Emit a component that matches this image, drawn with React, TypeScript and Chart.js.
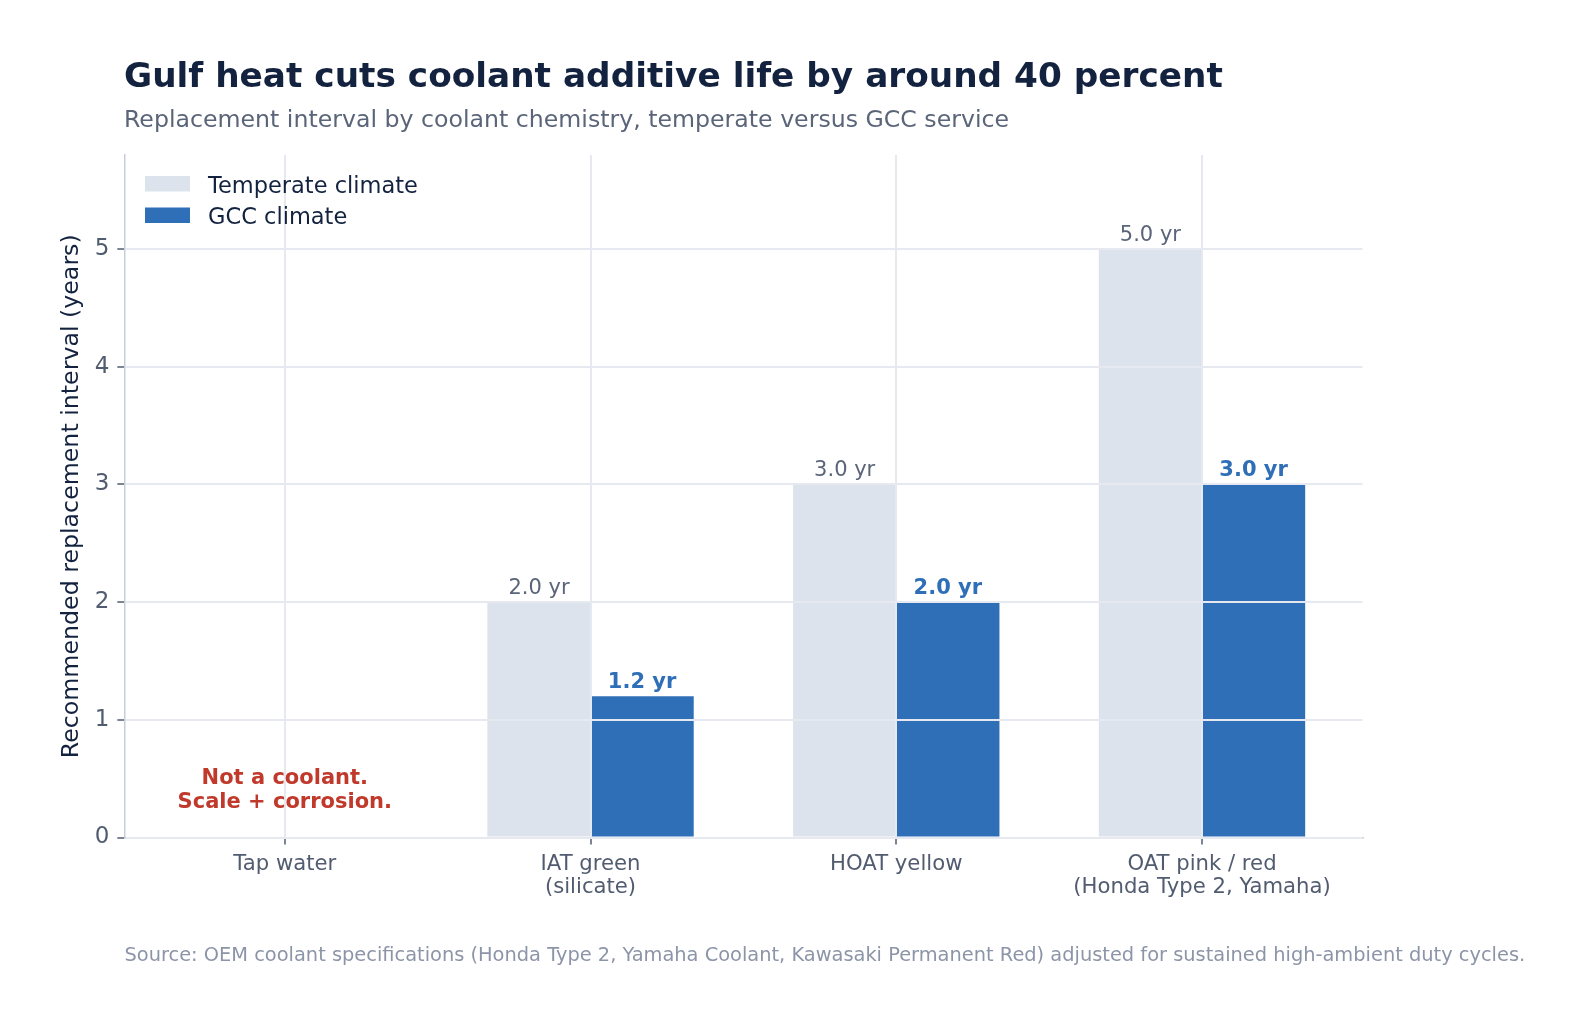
import React, { useEffect, useRef } from "react";
import { Chart, registerables } from "chart.js";

Chart.register(...registerables);

// ---- data ----
const categories: string[][] = [
  ["Tap water"],
  ["IAT green", "(silicate)"],
  ["HOAT yellow"],
  ["OAT pink / red", "(Honda Type 2, Yamaha)"],
];
const categoryPositions = [0, 1, 2, 3];
const temperateYears: (number | null)[] = [null, 2.0, 3.0, 5.0];
const gccYears: (number | null)[] = [null, 1.2, 2.0, 3.0];
const yTickValues = [0, 1, 2, 3, 4, 5];
const seriesLabels = ["Temperate climate", "GCC climate"];

const titleText = "Gulf heat cuts coolant additive life by around 40 percent";
const subtitleText = "Replacement interval by coolant chemistry, temperate versus GCC service";
const sourceText =
  "Source: OEM coolant specifications (Honda Type 2, Yamaha Coolant, Kawasaki Permanent Red) adjusted for sustained high-ambient duty cycles.";
const yAxisTitle = "Recommended replacement interval (years)";
const noteLines = ["Not a coolant.", "Scale + corrosion."];
const noteCategory = 0;
const noteValue = 0.41;

// ---- styles ----
const FONT = '"DejaVu Sans", sans-serif';
const C_TITLE = "#13233f";
const C_SUB = "#5b6579";
const C_TICK = "#525c70";
const C_GRID = "#e6e9f0";
const C_SPINE = "#c8cdd9";
const C_TEMP = "#dde3ed";
const C_GCC = "#2f6fb7";
const C_NOTE = "#c0392b";
const C_SOURCE = "#8c95a7";

const toPoints = (vals: (number | null)[]) =>
  vals
    .map((v, i) => ({ x: categoryPositions[i], y: v }))
    .filter((p) => p.y !== null) as { x: number; y: number }[];

const overlayPlugin = {
  id: "overlay",
  afterDraw(chart: any) {
    const ctx: CanvasRenderingContext2D = chart.ctx;
    const xs = chart.scales.x;
    const ys = chart.scales.y;
    ctx.save();

    // title + subtitle
    ctx.textAlign = "left";
    ctx.textBaseline = "alphabetic";
    ctx.fillStyle = C_TITLE;
    ctx.font = `bold 34.3px ${FONT}`;
    ctx.fillText(titleText, 124, 86.5);
    ctx.fillStyle = C_SUB;
    ctx.font = `23.65px ${FONT}`;
    ctx.fillText(subtitleText, 124, 127);

    // source
    ctx.fillStyle = C_SOURCE;
    ctx.font = `19.4px ${FONT}`;
    ctx.fillText(sourceText, 124.5, 961);

    // y axis title
    ctx.save();
    ctx.translate(78, (chart.chartArea.top + chart.chartArea.bottom) / 2);
    ctx.rotate(-Math.PI / 2);
    ctx.textAlign = "center";
    ctx.fillStyle = C_TITLE;
    ctx.font = `23.7px ${FONT}`;
    ctx.fillText(yAxisTitle, 0, 0);
    ctx.restore();

    // legend
    const colors = [C_TEMP, C_GCC];
    const legendY = [176, 207.5];
    const legendBase = [192.5, 224];
    ctx.font = `22.5px ${FONT}`;
    ctx.textAlign = "left";
    seriesLabels.forEach((lab, i) => {
      ctx.fillStyle = colors[i];
      ctx.fillRect(145, legendY[i], 45, 15.5);
      ctx.fillStyle = C_TITLE;
      ctx.fillText(lab, 208, legendBase[i]);
    });

    // value labels
    ctx.textAlign = "center";
    chart.data.datasets.forEach((ds: any, di: number) => {
      const meta = chart.getDatasetMeta(di);
      meta.data.forEach((el: any, j: number) => {
        const v = ds.data[j].y;
        if (di === 0) {
          ctx.font = `21px ${FONT}`;
          ctx.fillStyle = C_SUB;
        } else {
          ctx.font = `bold 21px ${FONT}`;
          ctx.fillStyle = C_GCC;
        }
        ctx.fillText(`${v.toFixed(1)} yr`, el.x, el.y - 8.5);
      });
    });

    // note
    const nx = xs.getPixelForValue(noteCategory);
    const ny = ys.getPixelForValue(noteValue);
    ctx.font = `bold 21px ${FONT}`;
    ctx.fillStyle = C_NOTE;
    ctx.fillText(noteLines[0], nx, ny - 4.8);
    ctx.fillText(noteLines[1], nx, ny + 19.2);

    ctx.restore();
  },
};

export default function App() {
  const ref = useRef<HTMLCanvasElement | null>(null);

  useEffect(() => {
    document.body.style.margin = "0";
    const canvas = ref.current;
    if (!canvas) return;
    const chart = new Chart(canvas, {
      type: "bar",
      data: {
        datasets: [
          {
            label: seriesLabels[0],
            data: toPoints(temperateYears),
            backgroundColor: C_TEMP,
            borderWidth: 0,
            categoryPercentage: 0.675,
            barPercentage: 1,
          },
          {
            label: seriesLabels[1],
            data: toPoints(gccYears),
            backgroundColor: C_GCC,
            borderWidth: 0,
            categoryPercentage: 0.675,
            barPercentage: 1,
          },
        ],
      } as any,
      options: {
        animation: false,
        responsive: true,
        maintainAspectRatio: false,
        devicePixelRatio: 1,
        layout: { padding: { top: 155, right: 223.5, left: 0, bottom: 0 } },
        plugins: {
          legend: { display: false },
          title: { display: false },
          tooltip: { enabled: false },
        },
        scales: {
          x: {
            type: "linear",
            min: -0.525,
            max: 3.525,
            offset: false,
            afterBuildTicks: (s: any) => {
              s.ticks = categoryPositions.map((v) => ({ value: v }));
            },
            afterFit: (s: any) => {
              s.height = 186.5;
            },
            ticks: {
              autoSkip: false,
              maxRotation: 0,
              minRotation: 0,
              padding: 9,
              color: C_TICK,
              font: { family: FONT, size: 21.2, lineHeight: 1.08 },
              callback: (v: any) => {
                const i = categoryPositions.indexOf(Number(v));
                return i >= 0 ? categories[i] : "";
              },
            },
            grid: {
              color: C_GRID,
              lineWidth: 2,
              tickLength: 7,
              tickColor: C_TICK,
              tickWidth: 1.5,
              offset: false,
              z: 1,
            },
            border: { color: C_SPINE, width: 1.5, z: 1 },
          },
          y: {
            type: "linear",
            min: 0,
            max: 5.8,
            afterBuildTicks: (s: any) => {
              s.ticks = yTickValues.map((v) => ({ value: v }));
            },
            afterFit: (s: any) => {
              s.width = 124.3;
            },
            ticks: {
              padding: 8,
              color: C_TICK,
              font: { family: FONT, size: 23 },
              callback: (v: any) => String(v),
            },
            grid: {
              color: C_GRID,
              lineWidth: 2,
              tickLength: 7,
              tickColor: C_TICK,
              tickWidth: 1.5,
              z: 1,
            },
            border: { color: C_SPINE, width: 1.5, z: 1 },
          },
        },
      } as any,
      plugins: [overlayPlugin],
    });
    return () => chart.destroy();
  }, []);

  return (
    <div style={{ width: 1586, height: 1024, position: "relative", background: "#ffffff" }}>
      <canvas ref={ref} />
    </div>
  );
}
